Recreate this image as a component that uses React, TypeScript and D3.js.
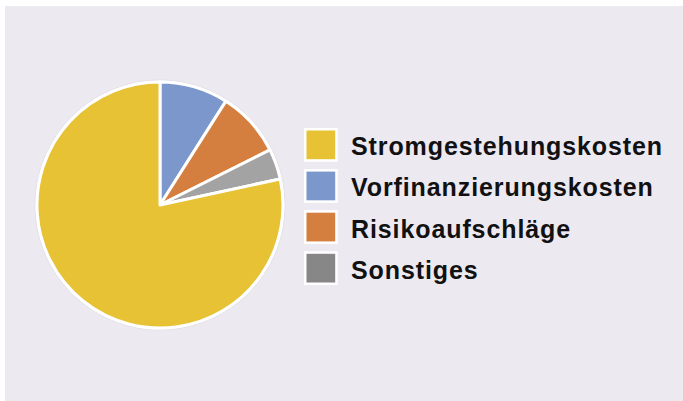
import React from "react";
import * as d3 from "d3";

const categories = ["Stromgestehungskosten", "Vorfinanzierungskosten", "Risikoaufschläge", "Sonstiges"];
const values = [78.4, 9, 8.6, 4];
const sliceColors = ["#E6C234", "#7B97CC", "#D47F3F", "#A3A3A3"];
const legendColors = ["#E6C234", "#7B97CC", "#D47F3F", "#878787"];

const W = 683;
const H = 401;

export default function App() {
  const cx = 160;
  const cy = 205;
  const r = 123;
  const pie = d3
    .pie<number>()
    .sort(null)
    .value((d) => d);
  const arcs = pie(values.slice(1).concat([values[0]]));
  // order clockwise from 12 o'clock: blue, orange, gray, yellow
  const order = [1, 2, 3, 0];
  const arc = d3.arc<d3.PieArcDatum<number>>().innerRadius(0).outerRadius(r);
  const legendY = d3.scaleBand<number>().domain(d3.range(categories.length)).range([128, 285]).paddingInner(0.18);
  return (
    <svg
      width={W}
      height={H}
      style={{ position: "absolute", left: 0, top: 0 }}
      xmlns="http://www.w3.org/2000/svg"
    >
      <rect x={0} y={0} width={W} height={H} fill="#ffffff" />
      <rect x={5} y={6} width={W - 5} height={395} fill="#ECE9F1" />
      <g transform={`translate(${cx},${cy})`}>
        <circle r={r + 2} fill="#ffffff" stroke="#e2e0e6" strokeWidth={1} />
        {arcs.map((a, i) => (
          <path
            key={i}
            d={arc(a) || ""}
            fill={sliceColors[order[i]]}
            stroke="#ffffff"
            strokeWidth={3}
            strokeLinejoin="round"
          />
        ))}
      </g>
      {categories.map((c, i) => {
        const y = legendY(i) as number;
        const bw = legendY.bandwidth();
        return (
          <g key={c}>
            <rect x={304} y={y} width={bw} height={bw} fill="#ffffff" />
            <rect x={306.5} y={y + 2.5} width={bw - 5} height={bw - 5} fill={legendColors[i]} />
            <text
              x={351}
              y={y + bw / 2 + 10.5}
              fontFamily="Liberation Sans, Arial, sans-serif"
              fontWeight="bold"
              fontSize={25}
              letterSpacing={0.9}
              fill="#111111"
            >
              {c}
            </text>
          </g>
        );
      })}
    </svg>
  );
}
